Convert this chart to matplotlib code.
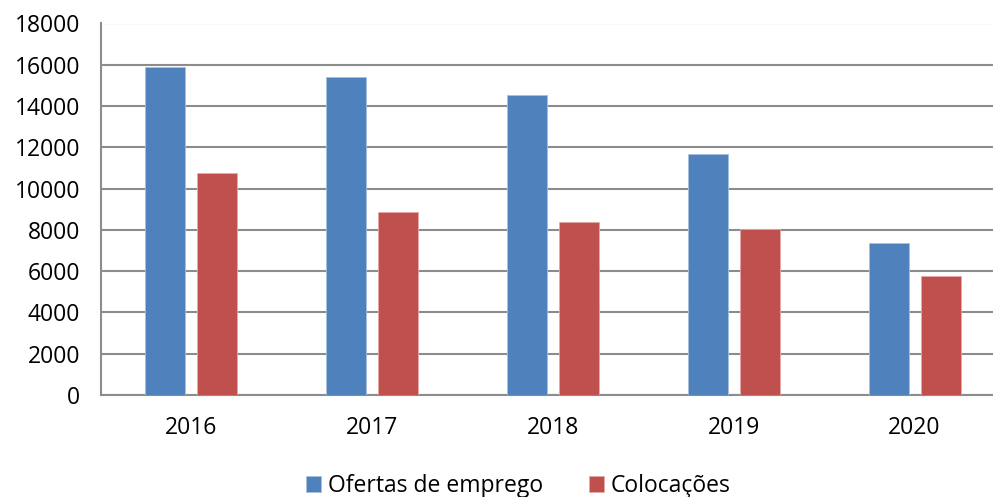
import numpy as np
import matplotlib.pyplot as plt

plt.rcParams['font.family'] = ['Open Sans', 'DejaVu Sans']

years = ['2016', '2017', '2018', '2019', '2020']
ofertas = [15900, 15390, 14540, 11660, 7350]
colocacoes = [10740, 8880, 8400, 8040, 5770]

blue = '#4F81BD'
red = '#C0504D'
grid_col = '#8C8C8C'

fig = plt.figure(figsize=(9.93, 4.97), dpi=100)
ax = fig.add_axes([101/993, 1 - 395/497, 904/993, (395 - 23.5)/497])

x = np.arange(len(years))
w = 0.221
off = 0.1435
ax.bar(x - off, ofertas, w, color=blue, edgecolor='#A7C0DE', linewidth=0.6,
       label='Ofertas de emprego', zorder=3)
ax.bar(x + off, colocacoes, w, color=red, edgecolor='#E2A9A7', linewidth=0.6,
       label='Colocações', zorder=3)

ax.set_xlim(-0.5, len(years) - 0.5)
ax.set_ylim(0, 18000)
ax.set_yticks(np.arange(0, 18001, 2000))
ax.set_xticks(x)
ax.set_xticklabels(years)
ax.yaxis.grid(True, color=grid_col, linewidth=1.5, zorder=0)
ax.set_axisbelow(True)

for s in ['top', 'right']:
    ax.spines[s].set_visible(False)
for s in ['left', 'bottom']:
    ax.spines[s].set_color(grid_col)
    ax.spines[s].set_linewidth(1.5)

ax.tick_params(axis='both', length=0, labelsize=16.5, colors='black')
ax.tick_params(axis='y', pad=15)
ax.tick_params(axis='x', pad=15)

fig.legend(loc='center', bbox_to_anchor=(0.522, 1 - 486/497), ncol=2, frameon=False,
           fontsize=16.5, handlelength=0.65, handleheight=0.65, handletextpad=0.3,
           columnspacing=2.0)

fig.savefig('out.png', dpi=100)
